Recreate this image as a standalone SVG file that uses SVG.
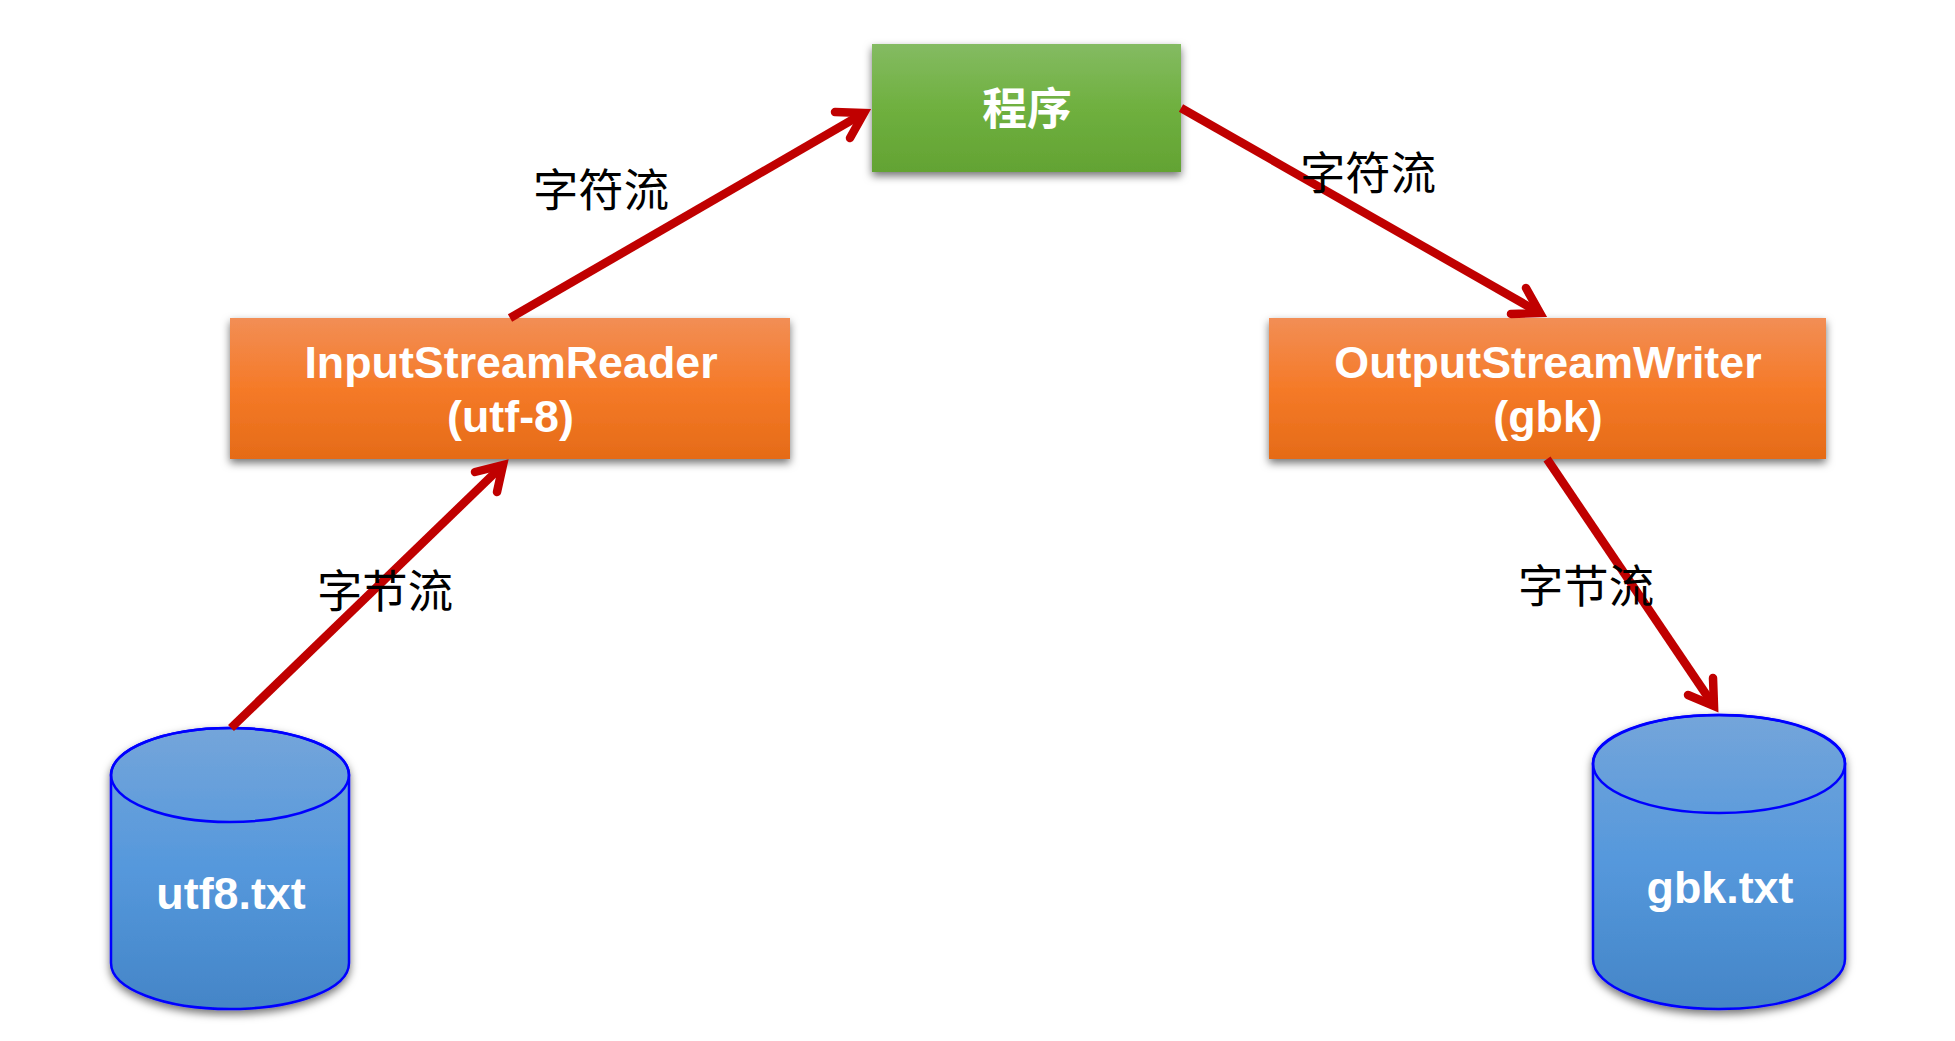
<svg xmlns="http://www.w3.org/2000/svg" width="1955" height="1041" viewBox="0 0 1955 1041">
<style>
.w{font-family:"Liberation Sans","Noto Sans CJK SC",sans-serif;font-weight:700;font-size:44.8px;fill:#fff;text-anchor:middle}
.c{font-family:"Noto Sans CJK SC",sans-serif;font-size:45.3px;fill:#000;text-anchor:middle}
.cyl{stroke:#0000ff;stroke-width:2.5;fill:url(#blue)}
.ln{fill:none;stroke:#c00000;stroke-width:8.5}
.hd{fill:none;stroke:#c00000;stroke-width:8.5;stroke-linecap:round;stroke-linejoin:miter}
</style>
<defs>
<linearGradient id="green" x1="0" y1="0" x2="0" y2="1"><stop offset="0" stop-color="#84bb62"/><stop offset="0.5" stop-color="#6fb03f"/><stop offset="1" stop-color="#63a333"/></linearGradient>
<linearGradient id="orange" x1="0" y1="0" x2="0" y2="1"><stop offset="0" stop-color="#f28e55"/><stop offset="0.5" stop-color="#f57a28"/><stop offset="1" stop-color="#e56b17"/></linearGradient>
<linearGradient id="blue" gradientUnits="objectBoundingBox" x1="0" y1="0" x2="0" y2="1"><stop offset="0" stop-color="#74a5da"/><stop offset="0.5" stop-color="#5598dc"/><stop offset="1" stop-color="#4485c7"/></linearGradient>
<filter id="sh" x="-10%" y="-10%" width="120%" height="125%"><feDropShadow dx="0" dy="4" stdDeviation="4" flood-color="#000" flood-opacity="0.55"/></filter>
</defs>
<g id="node-program"><rect x="872" y="44" width="309" height="128" fill="url(#green)" filter="url(#sh)"/><text class="w" x="1027" y="125">程序</text></g>
<g id="node-reader"><rect x="230" y="318" width="560" height="141" fill="url(#orange)" filter="url(#sh)"/><text class="w" x="511" y="378">InputStreamReader</text><text class="w" x="510.5" y="432">(utf-8)</text></g>
<g id="node-writer"><rect x="1269" y="318" width="557" height="141" fill="url(#orange)" filter="url(#sh)"/><text class="w" x="1548" y="378">OutputStreamWriter</text><text class="w" x="1548" y="432">(gbk)</text></g>
<g id="node-utf8"><path class="cyl" filter="url(#sh)" d="M111 775C111 749 164 728 230 728S349 749 349 775V963C349 989 296 1009 230 1009S111 989 111 963Z"/><ellipse cx="230" cy="775" rx="119" ry="47" fill="none" stroke="#0000ff" stroke-width="2.5"/><text class="w" x="231" y="909">utf8.txt</text></g>
<g id="node-gbk"><path class="cyl" filter="url(#sh)" d="M1593 763C1593 736 1649 715 1719 715S1845 736 1845 763V959C1845 987 1789 1009 1719 1009S1593 987 1593 959Z"/><ellipse cx="1719" cy="764" rx="126" ry="49" fill="none" stroke="#0000ff" stroke-width="2.5"/><text class="w" x="1720" y="903">gbk.txt</text></g>
<g id="connectors">
<path class="ln" d="M231 728L503 465"/><path class="hd" d="M475 472L503 465L497 492"/>
<path class="ln" d="M510 318L864 113"/><path class="hd" d="M835 112L864 113L850 138"/>
<path class="ln" d="M1181 108L1540 313"/><path class="hd" d="M1526 288L1540 313L1511 314"/>
<path class="ln" d="M1547 459L1714 706"/><path class="hd" d="M1713 678L1714 706L1688 695"/>
</g>
<g id="labels">
<text class="c" x="601" y="206.500">字符流</text>
<text class="c" x="1368" y="189.500">字符流</text>
<text class="c" x="385" y="608">字节流</text>
<text class="c" x="1586" y="603">字节流</text>
</g>
</svg>
